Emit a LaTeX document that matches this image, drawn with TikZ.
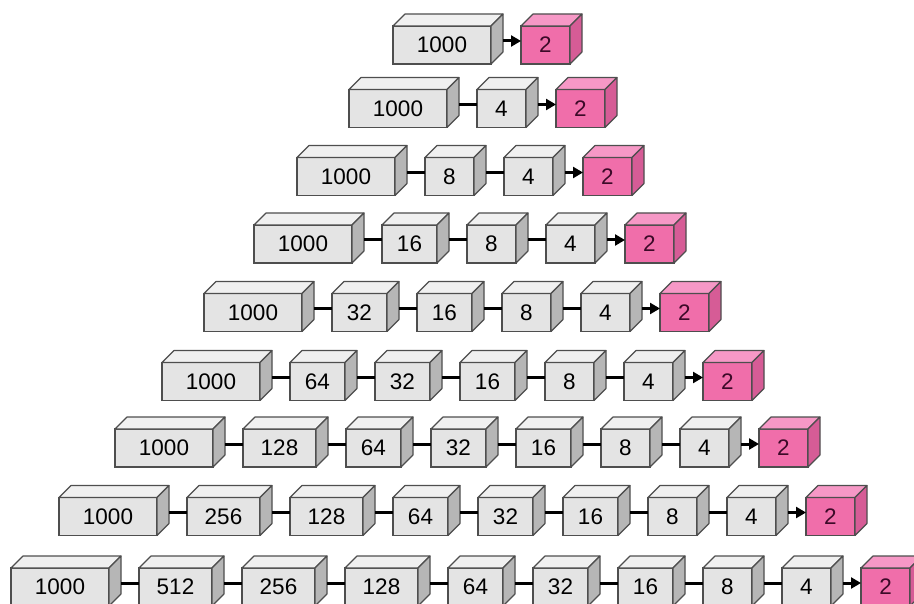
\documentclass[tikz,border=0pt]{standalone}
\usepackage{fontspec}
\setmainfont{Liberation Sans}
\usetikzlibrary{positioning,arrows.meta}

\definecolor{boxfront}{RGB}{228,228,228}
\definecolor{boxtop}{RGB}{240,240,240}
\definecolor{boxside}{RGB}{182,182,182}
\definecolor{outfront}{RGB}{240,110,170}
\definecolor{outtop}{RGB}{246,152,198}
\definecolor{outside}{RGB}{214,92,150}
\definecolor{outtext}{RGB}{60,10,40}
\definecolor{edge}{RGB}{78,78,78}

\begin{document}
\begin{tikzpicture}[
  x=1pt, y=1pt,
  cube/.style={
    draw=edge, line width=1.1pt,
    minimum height=38pt,
    inner sep=0pt, outer sep=0pt,  % width is set per box from the number of digits
    font=\fontsize{22.5}{27}\selectfont, anchor=west
  },
  face/.style={draw=edge, line width=1.1pt, line join=round},
  link/.style={line width=3pt},
  outlink/.style={link, -{Triangle[length=10pt, width=11pt]}}
]
\useasboundingbox (0,0) rectangle (914,-604);
\clip (0,0) rectangle (914,-604);
\def\xgap{30pt} % gap between boxes
\def\dep{12}    % depth of the cubes

% --- one row per layout: y / start x / layer sizes ---
\foreach \ry/\sx/\labels [count=\r] in {
  45/393/{1000,2},
  108.5/349/{1000,4,2},
  176.5/297/{1000,8,4,2},
  244/254/{1000,16,8,4,2},
  312.5/204/{1000,32,16,8,4,2},
  381.5/162/{1000,64,32,16,8,4,2},
  448/115/{1000,128,64,32,16,8,4,2},
  516.5/59/{1000,256,128,64,32,16,8,4,2},
  587/11/{1000,512,256,128,64,32,16,8,4,2}} {
  \foreach \c [count=\i] in \labels {
    \pgfmathsetmacro\bw{\c>999 ? 98 : (\c>99 ? 73 : (\c>9 ? 55 : 49))}
    \ifnum\c=2
      \def\myfront{outfront}\def\mytop{outtop}\def\myside{outside}\def\mytext{outtext}%
    \else
      \def\myfront{boxfront}\def\mytop{boxtop}\def\myside{boxside}\def\mytext{black}%
    \fi

    \ifnum\i=1
      \node[cube, fill=\myfront, text=\mytext, minimum width=\bw pt] (b\r-\i) at (\sx,-\ry) {\c};
    \else
      \pgfmathtruncatemacro\prev{\i-1}
      \node[cube, fill=\myfront, text=\mytext, minimum width=\bw pt, right=\xgap of b\r-\prev] (b\r-\i) {\c};
      \ifnum\c=2
        \draw[outlink] ([shift={(\dep,4)}]b\r-\prev.east) -- ([yshift=4]b\r-\i.west);
      \else
        \draw[link] ([shift={(\dep,4)}]b\r-\prev.east) -- ([yshift=4]b\r-\i.west);
      \fi
    \fi

    % top and side faces
    \filldraw[face, fill=\mytop] (b\r-\i.north west) -- ++(\dep,\dep)
      -- ([shift={(\dep,\dep)}]b\r-\i.north east) -- (b\r-\i.north east) -- cycle;
    \filldraw[face, fill=\myside] (b\r-\i.north east) -- ([shift={(\dep,\dep)}]b\r-\i.north east)
      -- ([shift={(\dep,\dep)}]b\r-\i.south east) -- (b\r-\i.south east) -- cycle;
  }
}
\end{tikzpicture}
\end{document}
